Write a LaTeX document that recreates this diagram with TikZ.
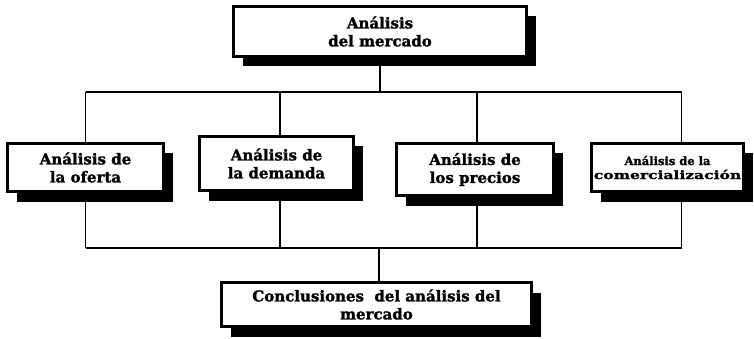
\documentclass[tikz,border=0pt]{standalone}
\usepackage{fontspec}
\setmainfont{DejaVu Serif}[BoldFeatures={FakeBold=1.6}]
\usetikzlibrary{shadows}

\begin{document}
\begin{tikzpicture}[
        x=1pt, y=-1pt,
        box/.style={rectangle, draw=black, line width=3pt, fill=white, align=center, inner sep=2pt, font=\bfseries\fontsize{15}{18}\selectfont, drop shadow={shadow xshift=9pt, shadow yshift=-10pt, fill=black, opacity=1}},
        smallbox/.style={box, font=\bfseries\fontsize{11.5}{14}\selectfont},
        link/.style={line width=1.8pt}
    ]
    \useasboundingbox (0,0) rectangle (754,339);

    % Main block
    \node[box, minimum width=293pt, minimum height=50pt] (mercado) at (380,31.5) {Análisis\\ del mercado};

    % Analysis blocks
    \node[box, minimum width=156pt, minimum height=48pt] (oferta) at (85.5,167.5) {Análisis de\\ la oferta};
    \node[box, minimum width=154pt, minimum height=54pt] (demanda) at (276.5,163.5) {Análisis de\\ la demanda};
    \node[box, minimum width=157pt, minimum height=52pt] (precios) at (475,169.5) {Análisis de\\ los precios};
    \node[smallbox, minimum width=152pt, minimum height=48pt] (comercial) at (667.5,167.5) {Análisis de la\\ \addfontfeature{FakeStretch=1.35}comercialización};

    % Conclusions
    \node[box, minimum width=310pt, minimum height=44pt] (conclusiones) at (376.5,304.5) {Conclusiones\ \ del análisis del\\ mercado};

    % Buses
    \coordinate (bustop) at (0,92);
    \coordinate (busbottom) at (0,248);
    \coordinate (comdrop) at ([xshift=14pt]comercial.north);

    % Top connectors
    \draw[link] (mercado.south) -- (mercado.south |- bustop);
    \draw[link] (oferta.north |- bustop) -- (comdrop |- bustop);
    \draw[link] (oferta.north) -- (oferta.north |- bustop);
    \draw[link] ([xshift=3.5pt]demanda.north) -- ([xshift=3.5pt]demanda.north |- bustop);
    \draw[link] ([xshift=2pt]precios.north) -- ([xshift=2pt]precios.north |- bustop);
    \draw[link] (comdrop) -- (comdrop |- bustop);

    % Bottom connectors
    \draw[link] (oferta.south |- busbottom) -- (comdrop |- busbottom);
    \draw[link] (oferta.south) -- (oferta.south |- busbottom);
    \draw[link] ([xshift=3.5pt]demanda.south) -- ([xshift=3.5pt]demanda.south |- busbottom);
    \draw[link] ([xshift=2pt]precios.south) -- ([xshift=2pt]precios.south |- busbottom);
    \draw[link] ([xshift=14pt]comercial.south) -- ([xshift=14pt]comercial.south |- busbottom);
    \draw[link] ([xshift=2.5pt]conclusiones.north) -- ([xshift=2.5pt]conclusiones.north |- busbottom);

\end{tikzpicture}
\end{document}
